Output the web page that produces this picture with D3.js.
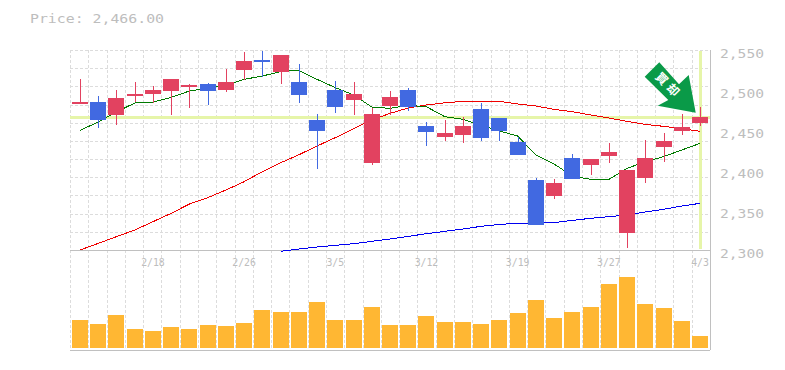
<!DOCTYPE html>
<html>
<head>
<meta charset="utf-8">
<script src="https://cdn.jsdelivr.net/npm/d3@7"></script>
<style>
html,body{margin:0;padding:0;background:#fff;}
svg{display:block;}
.lbl{font-family:"DejaVu Sans Mono",monospace;fill:#bdbdbd;}
</style>
</head>
<body>
<div id="chart"></div>
<script>
var dates=["2/12","2/13","2/14","2/15","2/18","2/19","2/20","2/21","2/22","2/26","2/27","2/28","3/1","3/4","3/5","3/6","3/7","3/8","3/11","3/12","3/13","3/14","3/15","3/18","3/19","3/20","3/22","3/25","3/26","3/27","3/28","3/29","4/1","4/2","4/3"];
var dateLabels=["2/18","2/26","3/5","3/12","3/19","3/27","4/3"];
var priceLabels=[2550,2500,2450,2400,2350,2300];

// red candles close on top of the body, blue ones open on top
var opens=[2483,2485,2468.75,2492.5,2495,2498.75,2503.75,2507.5,2500,2525,2537.5,2522.5,2510,2462.5,2500,2487.5,2408.75,2480,2500,2455,2441.25,2443.75,2476,2465,2435,2387.5,2367.5,2415,2406.25,2417.5,2321.25,2390,2428.75,2448.75,2458.75];
var closes=[2485,2462.5,2490,2495,2500,2513.75,2506,2498.75,2510,2536,2535,2543.75,2493.75,2448.75,2478.75,2495,2470,2491,2478.75,2447.5,2446,2455,2440,2448.75,2418.75,2331.25,2383.75,2388.75,2413.75,2422.5,2400,2415,2436,2453.75,2466];
var highs=[2513.75,2492.5,2500,2510,2505,2513.75,2507.5,2508.75,2526,2547.5,2548.75,2543.75,2532.5,2470,2511,2510,2478,2498.75,2502.5,2460,2462.5,2466,2483.75,2465,2441,2390,2388.75,2420,2413.75,2433.75,2400,2437.5,2446,2470,2478.75];
var lows=[2483,2453,2456.7,2485,2484,2468.75,2477.5,2481,2497.5,2512.5,2516.7,2507.5,2483.75,2401,2471,2468.75,2406,2468.75,2473.75,2430,2436,2433.75,2436,2436,2418.75,2331,2363.75,2388.75,2393.75,2408.75,2302.5,2383.75,2410,2443.75,2455];
var volumes=[28,24,33,19,17,21,19,23,22,25,38,36,36,46,28,28,41,23,23,32,26,26,24,28,35,48,30,36,41,64,71,44,40,27,12];

var maShort=[2449.6,2460,2472.5,2483.75,2485,2490.8,2498.75,2502,2506,2513.3,2517.5,2523,2524.6,2513.3,2503,2493.75,2478.75,2477,2481,2479,2466.7,2463.3,2456,2448.75,2442.5,2418.75,2407.5,2392.5,2388.3,2388.3,2402,2410.4,2416.7,2425,2433.3];
var maMid=[2300,2308.3,2316.7,2325,2335.4,2345.8,2357.5,2365.4,2375,2385.4,2397.9,2409,2419,2430,2440.4,2451.7,2462.5,2470.8,2477.5,2481.25,2484,2485.8,2485.8,2485.8,2482.5,2480,2475.8,2472.9,2468.75,2465,2460.8,2457,2454.6,2451.7,2448.3];
var maLong=[null,null,null,null,null,null,null,null,null,null,null,2298.3,2301.25,2303.75,2305.8,2307.9,2310.8,2313.75,2317,2320.4,2323.3,2326.25,2329.6,2332,2333.3,2333.75,2334.2,2337,2339.6,2341.7,2343.75,2347.5,2350.8,2355,2358.3];
var lastPrice=2466;

var width=785,height=370;
var left=70,right=710,top1=50,bottom1=250,bottom2=350;
var boxw=16;

var svg=d3.select("#chart").append("svg").attr("width",width).attr("height",height);

var x=d3.scalePoint().domain(dates).range([80,700]);
var y=d3.scaleLinear().domain([2300,2550]).range([bottom1,top1]);
var yVol=d3.scaleLinear().domain([0,80]).range([348,268]);

// grid
var gridX=d3.range(36).map(function(i){return left+i*(right-left)/35;});
var gridY=d3.range(12).map(function(i){return top1+i*(bottom1-top1)/11;});
var grid=svg.append("g").attr("stroke","#dcdcdc").attr("stroke-dasharray","3,2").attr("shape-rendering","crispEdges");
grid.selectAll(".gx").data(gridX).join("line").attr("class","gx")
    .attr("x1",function(d){return Math.round(d)+0.5;}).attr("x2",function(d){return Math.round(d)+0.5;})
    .attr("y1",top1).attr("y2",bottom2);
grid.selectAll(".gy").data(gridY).join("line").attr("class","gy")
    .attr("x1",left).attr("x2",right)
    .attr("y1",function(d){return Math.round(d)+0.5;}).attr("y2",function(d){return Math.round(d)+0.5;});

// price marker, below the candles
svg.append("line").attr("x1",left).attr("x2",right).attr("y1",y(lastPrice)).attr("y2",y(lastPrice))
    .attr("stroke","#e6f5a9").attr("stroke-width",3).attr("shape-rendering","crispEdges");
// vertical marker at the last day
svg.append("line").attr("x1",x(dates[34])+0.5).attr("x2",x(dates[34])+0.5).attr("y1",top1+1).attr("y2",bottom1-1)
    .attr("stroke","#e6f5a9").attr("stroke-width",3).attr("shape-rendering","crispEdges");

// frame
var frame=svg.append("g").attr("stroke","#c0c0c0").attr("shape-rendering","crispEdges");
frame.append("line").attr("x1",left).attr("x2",right).attr("y1",bottom1+0.5).attr("y2",bottom1+0.5);
frame.append("line").attr("x1",left).attr("x2",right).attr("y1",bottom2+0.5).attr("y2",bottom2+0.5);
frame.append("line").attr("x1",right+0.5).attr("x2",right+0.5).attr("y1",top1).attr("y2",bottom2);

// volume
svg.append("g").selectAll("rect").data(dates).join("rect")
    .attr("x",function(d){return Math.round(x(d))-boxw/2;})
    .attr("width",boxw)
    .attr("y",function(d,i){return yVol(volumes[i]);})
    .attr("height",function(d,i){return yVol(0)-yVol(volumes[i]);})
    .attr("fill","#ffb733");

// moving averages
function maLine(values,color){
    var line=d3.line()
        .defined(function(d){return d!=null;})
        .x(function(d,i){return x(dates[i]);})
        .y(function(d){return y(d);});
    svg.append("path").attr("d",line(values)).attr("fill","none").attr("stroke",color)
        .attr("stroke-width",1).attr("shape-rendering","crispEdges");
}
maLine(maLong,"#0000f0");
maLine(maMid,"#f00000");
maLine(maShort,"#007a00");

// candles
var up="#e24260",down="#4169e1";
function candleColor(i){return closes[i]>=opens[i]?up:down;}
var candle=svg.append("g").selectAll("g").data(dates).join("g");
candle.append("line")
    .attr("x1",function(d){return Math.round(x(d))+0.5;})
    .attr("x2",function(d){return Math.round(x(d))+0.5;})
    .attr("y1",function(d,i){return y(highs[i]);})
    .attr("y2",function(d,i){return y(lows[i]);})
    .attr("stroke",function(d,i){return candleColor(i);})
    .attr("shape-rendering","crispEdges");
candle.append("rect")
    .attr("x",function(d){return Math.round(x(d))-boxw/2;})
    .attr("width",boxw)
    .attr("y",function(d,i){return y(Math.max(opens[i],closes[i]));})
    .attr("height",function(d,i){return Math.max(1,Math.abs(y(opens[i])-y(closes[i])));})
    .attr("fill",function(d,i){return candleColor(i);})
    .attr("shape-rendering","crispEdges");

// arrow, placed relative to the last candle
var tipX=x(dates[34])-4.3,tipY=y(lastPrice)-4.5;
var arrowShape=[[-36.4,-50.4],[-51,-36],[-27.4,-12.7],[-38,-7],[0,0],[-7,-37.7],[-16.7,-28.4]];
var arrow=svg.append("g").attr("transform","translate("+tipX+","+tipY+")");
arrow.append("path").attr("d","M"+arrowShape.join("L")+"Z").attr("fill","#0a9a48");
arrow.append("text").attr("transform","translate(-34,-34) rotate(45)").attr("text-anchor","middle")
    .attr("dy","0.36em").style("font-family","'Noto Sans CJK JP'").style("font-size","12px").style("font-weight","bold")
    .attr("fill","#fff").text("買");
arrow.append("text").attr("transform","translate(-22.7,-22.7) rotate(45)").attr("text-anchor","middle")
    .attr("dy","0.36em").style("font-family","'Noto Sans CJK JP'").style("font-size","12px").style("font-weight","bold")
    .attr("fill","#fff").text("却");

// labels
svg.append("text").attr("class","lbl").attr("x",30).attr("y",23).style("font-size","13px")
    .attr("textLength",134).attr("lengthAdjust","spacingAndGlyphs").text("Price: 2,466.00");
svg.selectAll(".py").data(priceLabels).join("text").attr("class","lbl py")
    .attr("x",720).attr("y",function(d){return y(d)+8;}).style("font-size","13px")
    .attr("textLength",44).attr("lengthAdjust","spacingAndGlyphs").text(d3.format(","));
svg.selectAll(".dl").data(dateLabels).join("text").attr("class","lbl dl")
    .attr("x",function(d){return x(d);}).attr("y",266).attr("text-anchor","middle").style("font-size","11px")
    .attr("textLength",function(d){return d.length*5.9;}).attr("lengthAdjust","spacingAndGlyphs").text(function(d){return d;});
</script>
</body>
</html>
